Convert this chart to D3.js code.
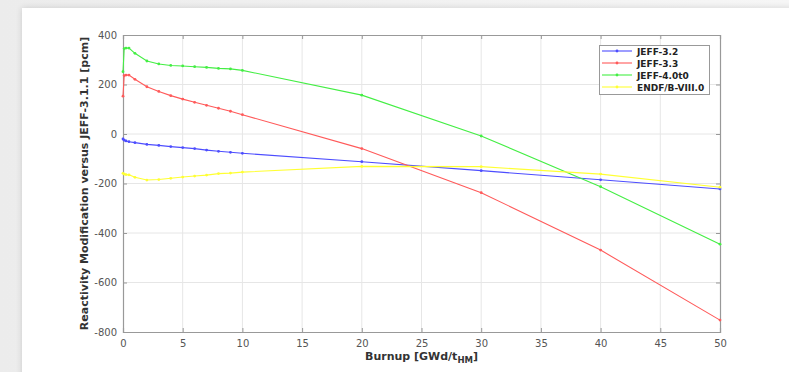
<!DOCTYPE html>
<html><head><meta charset="utf-8">
<script src="https://cdn.jsdelivr.net/npm/d3@7"></script>
<style>body{margin:0;background:#fff}svg{display:block}</style>
</head><body>
<svg id="c" width="789" height="372"></svg>
<script>
const burnup = [0, 0.1, 0.25, 0.5, 1, 2, 3, 4, 5, 6, 7, 8, 9, 10, 20, 30, 40, 50];
const jeff32 = [-20, -25, -28, -31, -35, -42, -46, -51, -55, -59, -65, -70, -74, -78, -112, -148, -185, -222];
const jeff33 = [153, 236, 238, 238, 221, 191, 172, 155, 141, 128, 116, 104, 92, 78, -59, -237, -469, -752];
const jeff40 = [252, 345, 347, 347, 326, 295, 283, 277, 275, 272, 269, 265, 263, 257, 157, -8, -213, -445];
const endf80 = [-159, -162, -164, -165, -175, -186, -184, -179, -174, -170, -166, -160, -158, -154, -131, -132, -162, -215];
const seriesNames = ["JEFF-3.2", "JEFF-3.3", "JEFF-4.0t0", "ENDF/B-VIII.0"];
const seriesColors = ["#4d4dff", "#ff5a5a", "#44ee44", "#ffff33"];
const xTicks = [0, 5, 10, 15, 20, 25, 30, 35, 40, 45, 50];
const yTicks = [-800, -600, -400, -200, 0, 200, 400];

const svg = d3.select("#c");
const defs = svg.append("defs");
const g1 = defs.append("linearGradient").attr("id","lg").attr("x1","0").attr("x2","1");
g1.append("stop").attr("offset","0").attr("stop-color","#ececec");
g1.append("stop").attr("offset","1").attr("stop-color","#f6f6f6");
svg.append("rect").attr("width",789).attr("height",372).attr("fill","url(#lg)");
const f = defs.append("filter").attr("id","sh").attr("x","-5%").attr("y","-5%").attr("width","110%").attr("height","110%");
f.append("feGaussianBlur").attr("in","SourceAlpha").attr("stdDeviation",3);
f.append("feComponentTransfer").append("feFuncA").attr("type","linear").attr("slope",0.15);
const fm = f.append("feMerge"); fm.append("feMergeNode"); fm.append("feMergeNode").attr("in","SourceGraphic");
svg.append("rect").attr("x",22).attr("y",8).attr("width",800).attr("height",400).attr("fill","#fff").attr("filter","url(#sh)");

const L = 123, R = 720, T = 35, B = 332;
const x = d3.scaleLinear().domain([0,50]).range([L,R]);
const y = d3.scaleLinear().domain([-800,400]).range([B,T]);
const fmt = d => String(d);

svg.append("g").selectAll("line").data(xTicks.slice(1,-1)).join("line")
  .attr("x1",d=>x(d)).attr("x2",d=>x(d)).attr("y1",T).attr("y2",B)
  .attr("stroke","#e6e6e6").attr("stroke-width",1);
svg.append("g").selectAll("line").data(yTicks.slice(1,-1)).join("line")
  .attr("y1",d=>y(d)).attr("y2",d=>y(d)).attr("x1",L).attr("x2",R)
  .attr("stroke","#e6e6e6").attr("stroke-width",1);

const ax = svg.append("g").attr("transform",`translate(0,${B})`)
  .call(d3.axisBottom(x).tickValues(xTicks).tickSize(-4).tickPadding(8).tickFormat(fmt));
const ay = svg.append("g").attr("transform",`translate(${L},0)`)
  .call(d3.axisLeft(y).tickValues(yTicks).tickSize(-4).tickPadding(6).tickFormat(fmt));
const axT = svg.append("g").attr("transform",`translate(0,${T})`)
  .call(d3.axisTop(x).tickValues(xTicks).tickSize(-4).tickFormat(""));
const ayR = svg.append("g").attr("transform",`translate(${R},0)`)
  .call(d3.axisRight(y).tickValues(yTicks).tickSize(-4).tickFormat(""));
[ax,ay,axT,ayR].forEach(a=>{
  a.selectAll("path").attr("stroke","#999").attr("stroke-width",1.2);
  a.selectAll("line").attr("stroke","#999");
  a.selectAll("text").attr("fill","#555").attr("font-family","DejaVu Sans, sans-serif").attr("font-size",10);
});

const all = [jeff32, jeff33, jeff40, endf80];
const line = d3.line().x((d,i)=>x(burnup[i])).y(d=>y(d));
all.forEach((vals,k)=>{
  const g = svg.append("g");
  g.append("path").datum(vals).attr("d",line).attr("fill","none")
    .attr("stroke",seriesColors[k]).attr("stroke-width",1.1);
  g.selectAll("circle").data(vals).join("circle")
    .attr("cx",(d,i)=>x(burnup[i])).attr("cy",d=>y(d)).attr("r",1.4)
    .attr("fill",seriesColors[k]);
});

svg.append("text").attr("x",(L+R)/2).attr("y",360).attr("text-anchor","middle")
  .attr("font-family","DejaVu Sans, sans-serif").attr("font-size",11).attr("font-weight","bold").attr("fill","#333")
  .call(t=>{t.append("tspan").text("Burnup [GWd/t");
    t.append("tspan").attr("font-size",8.5).attr("dy",3).text("HM");
    t.append("tspan").attr("dy",-3).text("]");});
svg.append("text").attr("transform",`translate(88,${(T+B)/2}) rotate(-90)`).attr("text-anchor","middle")
  .attr("font-family","DejaVu Sans, sans-serif").attr("font-size",11).attr("font-weight","bold").attr("fill","#333")
  .text("Reactivity Modification versus JEFF-3.1.1 [pcm]");

const lg = svg.append("g");
lg.append("rect").attr("x",599.5).attr("y",45.5).attr("width",110).attr("height",49)
  .attr("fill","#fff").attr("stroke","#999").attr("stroke-width",1);
seriesNames.forEach((n,k)=>{
  const yy = 51 + k*12;
  lg.append("line").attr("x1",602).attr("x2",632).attr("y1",yy).attr("y2",yy).attr("stroke",seriesColors[k]).attr("stroke-width",1.1);
  lg.append("circle").attr("cx",617).attr("cy",yy).attr("r",1.4).attr("fill",seriesColors[k]);
  lg.append("text").attr("x",637).attr("y",yy+3.5).attr("font-family","DejaVu Sans, sans-serif")
    .attr("font-size",9).attr("font-weight","bold").attr("fill","#222").text(n);
});
</script>
</body></html>
